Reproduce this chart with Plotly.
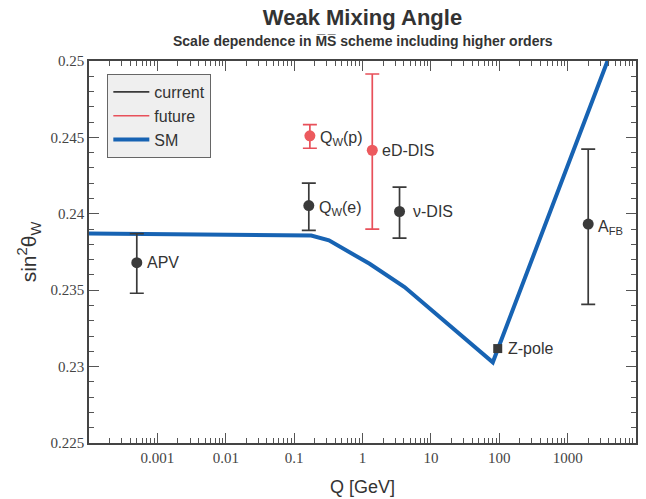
import plotly.graph_objects as go
import math

# ---- data ----
sm_q = [0.0001, 0.01, 0.178, 0.323, 1.27, 4.12, 80.5, 3830]
sm_s2w = [0.23871, 0.23867, 0.23858, 0.23826, 0.23673, 0.23521, 0.23028, 0.25]

cur_names = ["APV", "Q<sub>W</sub>(e)", "ν-DIS", "A<sub>FB</sub>"]
cur_q = [0.0005, 0.164, 3.48, 2000]
cur_val = [0.2368, 0.24054, 0.24015, 0.23933]
cur_up = [0.0019, 0.00147, 0.00159, 0.0049]
cur_dn = [0.0020, 0.00163, 0.00174, 0.00526]

fut_names = ["Q<sub>W</sub>(p)", "eD-DIS"]
fut_q = [0.17, 1.39]
fut_val = [0.2451, 0.24416]
fut_up = [0.00074, 0.00499]
fut_dn = [0.00081, 0.00516]

zpole_name = ["Z-pole"]
zpole_q = [95]
zpole_val = [0.23118]

xtick_vals = [0.001, 0.01, 0.1, 1, 10, 100, 1000]
xtick_text = ["0.001", "0.01", "0.1", "1", "10", "100", "1000"]
ytick_vals = [0.225, 0.23, 0.235, 0.24, 0.245, 0.25]
ytick_text = ["0.225", "0.23", "0.235", "0.24", "0.245", "0.25"]

# ---- styles ----
SANS = "Liberation Sans, Arial, sans-serif"
SERIF = "Liberation Serif, Times New Roman, serif"
DARK = "#3a3a3a"
RED = "#e8505a"
BLUE = "#1763b3"
TXT = "#333333"

minor_x = [m * 10 ** e for e in range(-4, 4) for m in range(2, 10)]

fig = go.Figure()

fig.add_trace(go.Scatter(x=sm_q, y=sm_s2w, mode="lines",
                         line=dict(color=BLUE, width=4), showlegend=False,
                         hoverinfo="skip"))

fig.add_trace(go.Scatter(
    x=cur_q, y=cur_val, mode="markers",
    marker=dict(color=DARK, size=11),
    error_y=dict(type="data", symmetric=False, array=cur_up, arrayminus=cur_dn,
                 color=DARK, thickness=1.7, width=7),
    showlegend=False))

fig.add_trace(go.Scatter(
    x=fut_q, y=fut_val, mode="markers",
    marker=dict(color="#ec5a5e", size=11),
    error_y=dict(type="data", symmetric=False, array=fut_up, arrayminus=fut_dn,
                 color=RED, thickness=1.7, width=7),
    showlegend=False))

fig.add_trace(go.Scatter(
    x=zpole_q, y=zpole_val, mode="markers",
    marker=dict(color=DARK, size=9, symbol="square"),
    showlegend=False))

# legend entries
fig.add_trace(go.Scatter(x=[None], y=[None], mode="lines", name="current",
                         line=dict(color=DARK, width=1.6)))
fig.add_trace(go.Scatter(x=[None], y=[None], mode="lines", name="future",
                         line=dict(color=RED, width=1.6)))
fig.add_trace(go.Scatter(x=[None], y=[None], mode="lines", name="SM",
                         line=dict(color=BLUE, width=4)))

annots = []
for names, qs, vals in [(cur_names, cur_q, cur_val), (fut_names, fut_q, fut_val),
                        (zpole_name, zpole_q, zpole_val)]:
    for n, q, v in zip(names, qs, vals):
        annots.append(dict(x=math.log10(q), y=v, xref="x", yref="y", text=n,
                           showarrow=False, xanchor="left", yanchor="middle",
                           xshift=(11 if n == "ν-DIS" else 8),
                           yshift=(-3 if "<sub>" in n else 0),
                           font=dict(family=SANS, size=16, color=TXT)))

annots.append(dict(x=0.5, y=(443 - 41) / 382, xref="paper", yref="paper",
                   text="<b>Scale dependence in M̅S̅ scheme including higher orders</b>",
                   showarrow=False, xanchor="center", yanchor="middle",
                   font=dict(family=SANS, size=14, color=TXT)))

axis_common = dict(showline=True, linecolor="#444444", linewidth=1.5,
                   mirror="allticks", ticks="inside", tickcolor="#555555",
                   tickwidth=1.2, ticklen=10, showgrid=False, zeroline=False,
                   automargin=False,
                   tickfont=dict(family=SERIF, size=15, color="#444444"))

fig.update_layout(
    width=646, height=499,
    margin=dict(l=89, r=10, t=61, b=56),
    paper_bgcolor="white", plot_bgcolor="white",
    title=dict(text="<b>Weak Mixing Angle</b>", x=0.5, xref="paper",
               y=1 - 17 / 499, yref="container", yanchor="middle",
               xanchor="center", font=dict(family=SANS, size=22, color=TXT)),
    xaxis=dict(type="log", range=[-4, 4], tickmode="array",
               tickvals=xtick_vals, ticktext=xtick_text,
               minor=dict(ticks="inside", ticklen=5, tickvals=minor_x,
                          tickcolor="#555555", tickwidth=1, showgrid=False),
               title=dict(text="Q [GeV]", standoff=16,
                          font=dict(family=SANS, size=18, color=TXT)),
               **axis_common),
    yaxis=dict(range=[0.225, 0.25], tickmode="array",
               tickvals=ytick_vals, ticktext=ytick_text,
               minor=dict(ticks="inside", ticklen=5, dtick=0.001,
                          tickcolor="#555555", tickwidth=1, showgrid=False),
               title=dict(text="sin<sup>2</sup>θ<sub>W</sub>", standoff=8,
                          font=dict(family=SANS, size=21, color=TXT)),
               **axis_common),
    legend=dict(x=0.0335, y=0.966, xanchor="left", yanchor="top",
                bgcolor="#efefef", bordercolor="#666666", borderwidth=1,
                font=dict(family=SANS, size=16, color=TXT),
                itemwidth=36, tracegroupgap=0),
    annotations=annots,
    showlegend=True,
)

fig.write_html("out.html")
